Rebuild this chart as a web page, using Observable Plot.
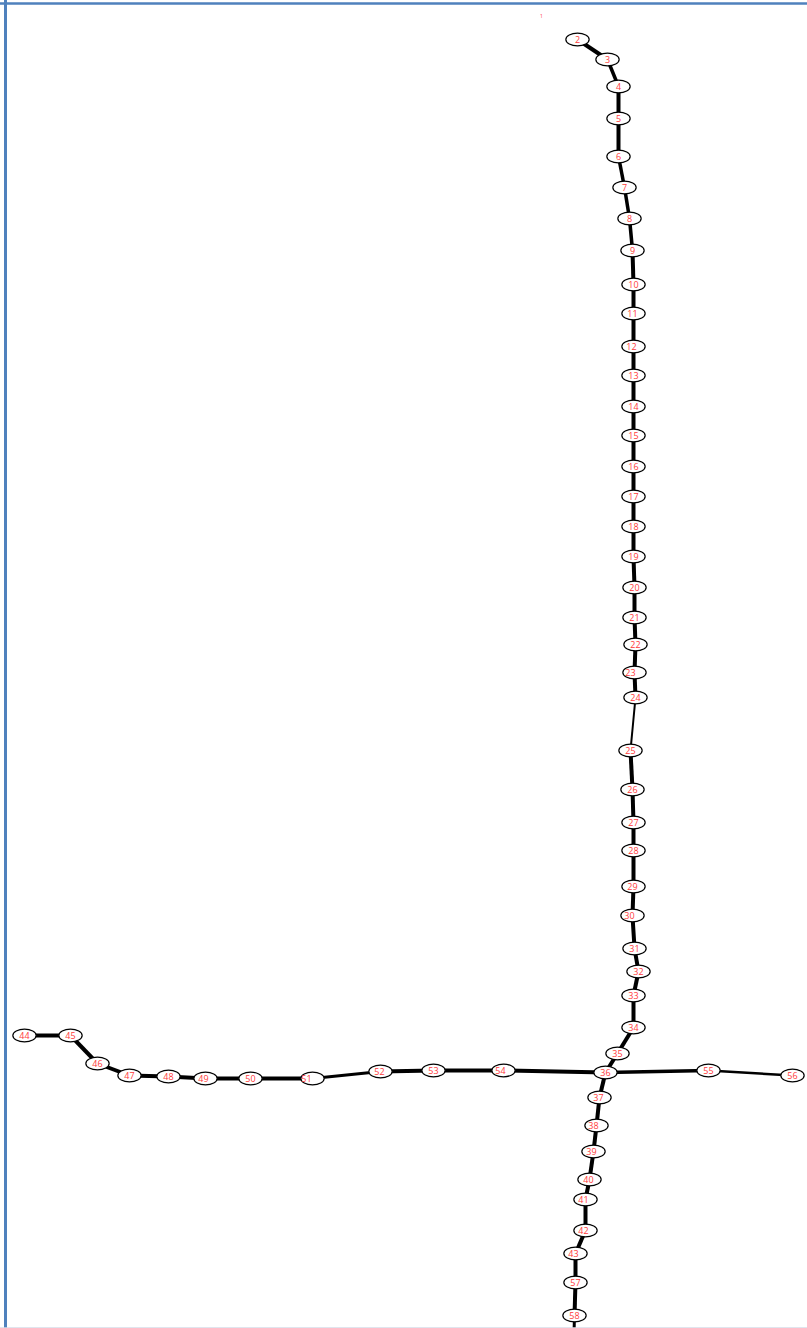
<!DOCTYPE html>
<html>
<head>
<meta charset="utf-8">
<script src="https://cdn.jsdelivr.net/npm/d3@7"></script>
<script src="https://cdn.jsdelivr.net/npm/@observablehq/plot@0.6"></script>
<style>
  html, body { margin: 0; padding: 0; background: #fff; }
  #chart svg { display: block; }
</style>
</head>
<body>
<div id="chart"></div>
<script>
// Node ids and their layout positions
const nodeIds = [2,3,4,5,6,7,8,9,10,11,12,13,14,15,16,17,18,19,20,21,22,23,24,25,26,27,28,29,30,31,32,33,34,35,36,37,38,39,40,41,42,43,57,58,44,45,46,47,48,49,50,51,52,53,54,55,56];
const nodeX = [577,607,618,618,618,624,629,632,633,633,633,633,633,633,633,633,633,633,634,634,635,634,635,630,632,633,633,633,632,634,638,633,633,617,605,599,596,593,589,585,585,575,575,574,24,70,97,129,168,205,250,312,380,433,503,708,792];
const nodeY = [39,59,86,118,156,187,218,250,284,313,346,375,406,435,466,496,526,556,587,617,644,672,697,750,789,822,850,886,915,948,971,995,1027,1053,1072,1097,1125,1151,1179,1199,1230,1253,1282,1315,1035,1035,1063,1075,1076,1078,1078,1078,1071,1070,1070,1070,1075];
// label shift relative to node centre
const labelDx = {23:-4,30:-3,38:-3,49:-2,51:-6,40:-1,41:-2,42:-2,43:-2,37:-1,39:-2,12:-2,11:-1,29:-1,52:-1,54:-3};

// Edges: source, target, weight
const edgeSource = [2,3,4,5,6,7,8,9,10,11,12,13,14,15,16,17,18,19,20,21,22,23,24,25,26,27,28,29,30,31,32,33,34,35,36,37,38,39,40,41,42,43,57,58,44,45,46,47,48,49,50,51,52,53,54,36,55];
const edgeTarget = [3,4,5,6,7,8,9,10,11,12,13,14,15,16,17,18,19,20,21,22,23,24,25,26,27,28,29,30,31,32,33,34,35,36,37,38,39,40,41,42,43,57,58,59,45,46,47,48,49,50,51,52,53,54,36,55,56];
const edgeWeight = [4,3.5,4,4,3.5,3.5,3.5,4,4,4,4,4,4,4,4,4,4,4,4,4,4,4,2,4,4,4,4,4,4,4,4,4,4,4,4,4,4,4,4,4,4,4,4,3,4,4,4,4,4,4,4,3,4,4,4,3.5,2.5];
// off-canvas continuation node
const extraId = 59, extraX = 573, extraY = 1350;

const pos = new Map(nodeIds.map((id, i) => [id, {x: nodeX[i], y: nodeY[i]}]));
pos.set(extraId, {x: extraX, y: extraY});
const nodes = nodeIds.map((id, i) => ({id, x: nodeX[i], y: nodeY[i], dx: labelDx[id] || 0}));
const edges = edgeSource.map((s, i) => ({
  x1: pos.get(s).x, y1: pos.get(s).y,
  x2: pos.get(edgeTarget[i]).x, y2: pos.get(edgeTarget[i]).y,
  w: edgeWeight[i]
}));
const title = [{id: 1, x: 541, y: 16}];

// ellipse symbol (rx = 1.85 * r, ry = r)
const ellipse = {
  draw(ctx, size) {
    const r = Math.sqrt(size / Math.PI);
    const rx = r * 1.85, ry = r;
    const k = 0.5523;
    ctx.moveTo(rx, 0);
    ctx.bezierCurveTo(rx, ry * k, rx * k, ry, 0, ry);
    ctx.bezierCurveTo(-rx * k, ry, -rx, ry * k, -rx, 0);
    ctx.bezierCurveTo(-rx, -ry * k, -rx * k, -ry, 0, -ry);
    ctx.bezierCurveTo(rx * k, -ry, rx, -ry * k, rx, 0);
    ctx.closePath();
  }
};

const W = 807, H = 1328;
const chart = Plot.plot({
  width: W, height: H,
  margin: 0,
  x: {domain: [0, W], range: [0, W], axis: null},
  y: {domain: [0, H], range: [0, H], axis: null},
  style: {background: "#fff", fontFamily: "'Open Sans', 'Liberation Sans', sans-serif"},
  marks: [
    Plot.link(edges, {x1: "x1", y1: "y1", x2: "x2", y2: "y2", stroke: "#000", strokeWidth: "w", clip: true}),
    Plot.dot(nodes, {x: "x", y: "y", r: 6.3, symbol: ellipse, fill: "#fff", stroke: "#000", strokeWidth: 1.2}),
    Plot.text(nodes, {x: d => d.x + d.dx, y: "y", text: "id", fill: "#ff3b3b", fontSize: 9, dy: 0.5}),
    Plot.text(title, {x: "x", y: "y", text: "id", fill: "#ff3b3b", fontSize: 5}),
    Plot.ruleY([3], {stroke: "#4f81bd", strokeWidth: 2.5}),
    Plot.ruleX([5], {stroke: "#4f81bd", strokeWidth: 3}),
    Plot.ruleY([1327.5], {stroke: "#d6dde8", strokeWidth: 1.5})
  ]
});
document.getElementById("chart").appendChild(chart);
</script>
</body>
</html>
